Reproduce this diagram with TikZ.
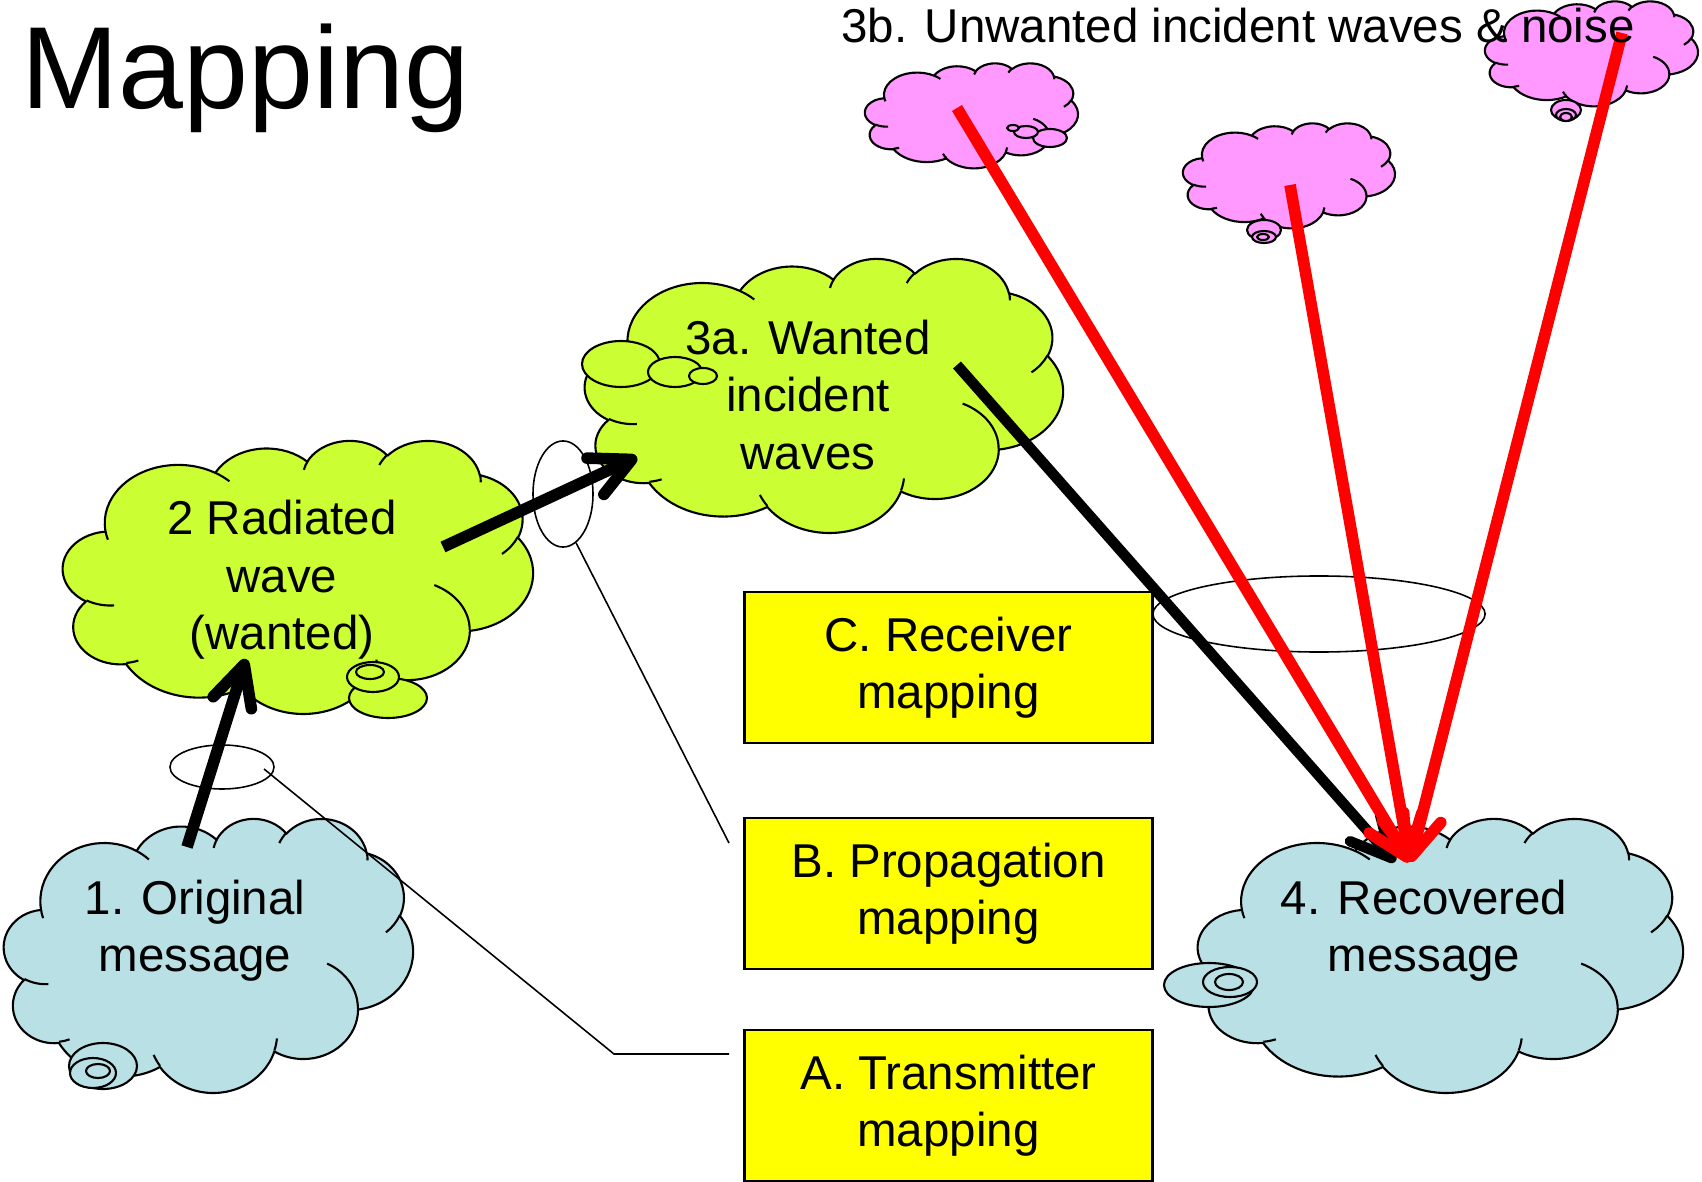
\documentclass[tikz,border=0pt]{standalone}
\usepackage{fontspec}
\setmainfont{Liberation Sans}
\usetikzlibrary{arrows.meta,shapes.geometric}
\definecolor{cblue}{RGB}{185,224,228}
\definecolor{cgreen}{RGB}{204,255,51}
\definecolor{cpink}{RGB}{255,153,255}
\definecolor{cyellow}{RGB}{255,255,0}

% arc given with OOXML-style (visual) angles
\newcommand\ooarc[4]{arc[x radius=#1, y radius=#2, start angle={(#3)+atan((#1/#2-1)*sin(#3)*cos(#3)/(cos(#3)*cos(#3)+(#1/#2)*sin(#3)*sin(#3)))}, end angle={(#3+#4)+atan((#1/#2-1)*sin(#3+#4)*cos(#3+#4)/(cos(#3+#4)*cos(#3+#4)+(#1/#2)*sin(#3+#4)*sin(#3+#4)))}]}

\newcommand\cloudmain{(0.39,1.437)
 \ooarc{0.6753}{0.9190}{-190.4875}{123.7805}
 \ooarc{0.5333}{0.7267}{-144.1024}{89.9452}
 \ooarc{0.4365}{0.5945}{-145.8079}{99.7230}
 \ooarc{0.4857}{0.6595}{-130.9861}{117.2417}
 \ooarc{0.5333}{0.7273}{-78.7089}{109.0269}
 \ooarc{0.6775}{0.9220}{-46.2673}{130.2690}
 \ooarc{0.5785}{0.7867}{0.6250}{114.0333}
 \ooarc{0.6752}{0.9215}{22.4516}{115.1726}
 \ooarc{0.7720}{1.0543}{66.2426}{75.7110}
 \ooarc{0.4360}{0.5918}{-274.9421}{146.7356}
 \ooarc{0.4345}{0.5945}{-246.8285}{152.5189}
 -- cycle}

\newcommand\cloudseams{
 (0.4693,2.6177) \ooarc{0.4345}{0.5945}{86.742}{26.4295}
 (0.6928,3.4899) \ooarc{0.4360}{0.5918}{73.6105}{11.4475}
 (1.6478,3.9090) \ooarc{0.6752}{0.9215}{137.6242}{14.0811}
 (2.8827,3.4751) \ooarc{0.6752}{0.9215}{6.4533}{15.9984}
 (3.4129,2.2954) \ooarc{0.5785}{0.7867}{-70.2924}{70.9174}
 (4.1798,1.5354) \ooarc{0.5333}{0.7273}{30.3180}{27.7515}
 (3.8324,0.5426) \ooarc{0.4857}{0.6595}{-13.7443}{14.8589}
 (2.9078,0.3952) \ooarc{0.4857}{0.6595}{-149.1815}{18.1954}
 (2.2141,0.4720) \ooarc{0.4365}{0.5945}{-163.4943}{17.6864}
 (1.4000,0.5192) \ooarc{0.6753}{0.9190}{-66.7070}{12.3194}
 (0.4127,1.5789) \ooarc{0.6753}{0.9190}{157.6544}{11.8582}}

\newcommand\cloudat[5]{%
 \begin{scope}[shift={(#1,#2)}, xscale=#3/4.32, yscale=#4/4.32]
  \filldraw[fill=#5, cloudline] \cloudmain;
  \draw[cloudline] \cloudseams;
 \end{scope}}

\newcommand\puff[5]{\filldraw[fill=#5, cloudline] (#1,#2) ellipse[x radius=#3, y radius=#4];}

\tikzset{
 cloudline/.style={line width=0.6pt, line join=round},
 cloudtext/.style={inner sep=0, align=center, font=\fontsize{13.5}{16.3}\selectfont},
 mapbox/.style={draw, line width=0.8pt, fill=cyellow, minimum width=4.07cm, minimum height=1.51cm,
   align=center, inner sep=0, font=\fontsize{13.5}{16.3}\selectfont},
 ring/.style={draw, ellipse, line width=0.45pt, inner sep=0},
 thin/.style={line width=0.45pt},
 bigarrow/.style={line width=3.3pt, -{Straight Barb[length=0.40cm, width=0.40cm, round]}},
 redarrow/.style={line width=3.3pt, red, -{Straight Barb[length=0.40cm, width=0.40cm, round]}}
}

\begin{document}
\begin{tikzpicture}[x=0.01cm, y=-0.01cm]
\useasboundingbox (0,0) rectangle (1702,1182);

% unwanted (pink) clouds
\cloudat{865}{63}{213}{105}{cpink}
\puff{1050}{138}{17}{9}{cpink}
\puff{1026}{132}{12}{6}{cpink}
\puff{1013}{128}{6}{3}{cpink}

\cloudat{1183}{123}{212}{105}{cpink}
\puff{1264}{230}{17}{10}{cpink}
\puff{1264}{237}{12}{6}{cpink}
\puff{1263}{237}{6}{3}{cpink}

\cloudat{1485}{1}{213}{105}{cpink}
\puff{1566}{110}{15}{10}{cpink}
\puff{1566}{115}{10}{6}{cpink}
\puff{1566}{117}{6}{4}{cpink}

% 2 radiated wave
\cloudat{63}{440}{470}{273}{cgreen}
\puff{388}{698}{39}{20}{cgreen}
\puff{373}{677}{26}{15}{cgreen}
\puff{370}{672}{14}{7}{cgreen}

% 3a wanted incident waves
\cloudat{585}{258}{478}{274}{cgreen}
\puff{621}{364}{39}{23}{cgreen}
\puff{675}{372}{27}{15}{cgreen}
\puff{703}{376}{14}{8}{cgreen}

% 1 original message
\cloudat{4}{818}{409}{274}{cblue}
\puff{103}{1066}{34}{23}{cblue}
\puff{93}{1073}{23}{15}{cblue}
\puff{98}{1071}{12}{7}{cblue}

% 4 recovered message
\cloudat{1198}{818}{485}{274}{cblue}
\puff{1209}{985}{45}{22}{cblue}
\puff{1230}{982}{27}{15}{cblue}
\puff{1229}{982}{14}{8}{cblue}

% mapping boxes
\node[mapbox] (boxC) at (948.5,667.5) {C. Receiver\\mapping};
\node[mapbox] (boxB) at (948.5,893.5) {B. Propagation\\mapping};
\node[mapbox] (boxA) at (948.5,1105.5) {A. Transmitter\\mapping};

% rings marking the mappings
\node[ring, minimum width=1.04cm, minimum height=0.44cm] (e1) at (222,767) {};
\node[ring, minimum width=0.60cm, minimum height=1.06cm] (e2) at (563,494) {};
\node[ring, minimum width=3.32cm, minimum height=0.76cm] (e3) at (1319,614) {};

\coordinate (e1tap) at (264,769);
\coordinate (aend) at (729,1054);
\coordinate (bend) at (729,843);
\draw[thin] (e1tap) -- (614,1054) -- (aend);
\draw[thin] (e2.-75) -- (bend);

% arrow end points
\coordinate (o1) at (187,847);
\coordinate (r2in) at (246,659);
\coordinate (r2out) at (443,547);
\coordinate (w3in) at (637,457);
\coordinate (w3out) at (957,365);
\coordinate (rec) at (1395,862);
\coordinate (rec2) at (1410,862);
\coordinate (u1) at (957,108);
\coordinate (u2) at (1290,185);
\coordinate (u3) at (1622,33);

\draw[bigarrow] (o1) -- (r2in);
\draw[bigarrow] (r2out) -- (w3in);
\draw[bigarrow, line width=3pt] (w3out) -- (rec);
\draw[redarrow] (u1) -- (rec2);
\draw[redarrow] (u2) -- (rec2);
\draw[redarrow] (u3) -- (rec2);

% texts
\node[cloudtext] (t1) at (195,931) {1. Original\\message};
\node[cloudtext] (t2) at (282,580) {2 Radiated\\wave\\(wanted)};
\node[cloudtext] (t3a) at (808,395) {3a. Wanted\\incident\\waves};
\node[cloudtext] (t4) at (1424,931) {4. Recovered\\message};
\node[cloudtext, anchor=base] (t3b) at (1238,43) {3b. Unwanted incident waves \& noise};
\node[anchor=base west, inner sep=0, font=\fontsize{33.2}{40}\selectfont] (title) at (21,109) {Mapping};
\end{tikzpicture}
\end{document}
